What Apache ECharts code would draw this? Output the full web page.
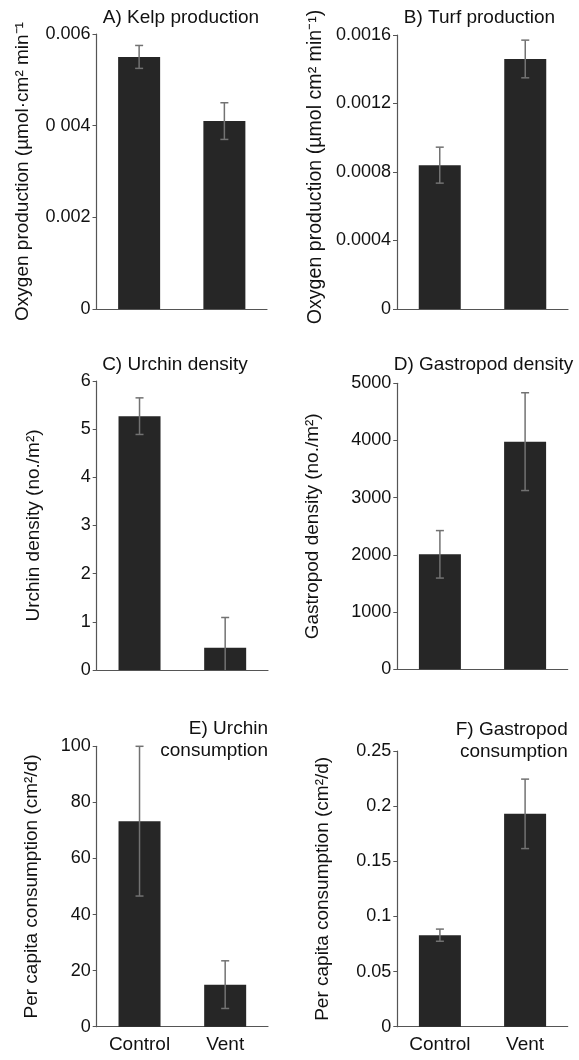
<!DOCTYPE html>
<html>
<head>
<meta charset="utf-8">
<script src="https://cdn.jsdelivr.net/npm/echarts@6/dist/echarts.min.js"></script>
<style>
html,body{margin:0;padding:0;background:#fff;}
#chart{width:579px;height:1060px;}
</style>
</head>
<body>
<div id="chart"></div>
<script>
// ---- data ----
const categories = ['Control', 'Vent'];

const kelpMean = [0.0055, 0.0041];
const kelpErr = [0.00025, 0.0004];
const turfMean = [0.00084, 0.00146];
const turfErr = [0.000105, 0.00011];
const urchinDensityMean = [5.27, 0.46];
const urchinDensityErr = [0.38, 0.63];
const gastropodDensityMean = [2010, 3980];
const gastropodDensityErr = [415, 855];
const urchinConsMean = [73.3, 15.0];
const urchinConsErr = [26.7, 8.5];
const gastropodConsMean = [0.083, 0.193];
const gastropodConsErr = [0.0055, 0.0315];

const ticksA = ['0', '0.002', '0 004', '0.006'];
const ticksB = ['0', '0.0004', '0.0008', '0.0012', '0.0016'];
const ticksC = ['0', '1', '2', '3', '4', '5', '6'];
const ticksD = ['0', '1000', '2000', '3000', '4000', '5000'];
const ticksE = ['0', '20', '40', '60', '80', '100'];
const ticksF = ['0', '0.05', '0.1', '0.15', '0.2', '0.25'];

const titlesText = ['A) Kelp production', 'B) Turf production', 'C) Urchin density',
  'D) Gastropod density', 'E) Urchin\nconsumption', 'F) Gastropod\nconsumption'];
const axisNames = ['Oxygen production (µmol·cm² min⁻¹', 'Oxygen production (µmol cm² min⁻¹)',
  'Urchin density (no./m²)', 'Gastropod density (no./m²)',
  'Per capita consumption (cm²/d)', 'Per capita consumption (cm²/d)'];

// ---- layout ----
const FONT = 'Liberation Sans, Arial, sans-serif';
const TXT = '#111';
const panels = [
  {mean: kelpMean, err: kelpErr, ticks: ticksA, max: 0.006, interval: 0.002,
   grid: {left: 96.5, top: 34, width: 170.5, height: 275}, nameGap: 64, showX: false, nameSize: 19, namePad: 0},
  {mean: turfMean, err: turfErr, ticks: ticksB, max: 0.0016, interval: 0.0004,
   grid: {left: 397, top: 35, width: 171, height: 274}, nameGap: 71, showX: false, nameSize: 19.6, namePad: 10},
  {mean: urchinDensityMean, err: urchinDensityErr, ticks: ticksC, max: 6, interval: 1,
   grid: {left: 96.7, top: 381, width: 171.3, height: 289}, nameGap: 53, showX: false, nameSize: 19, namePad: 0},
  {mean: gastropodDensityMean, err: gastropodDensityErr, ticks: ticksD, max: 5000, interval: 1000,
   grid: {left: 397.3, top: 383.3, width: 170.4, height: 286}, nameGap: 75, showX: false, nameSize: 19, namePad: 0},
  {mean: urchinConsMean, err: urchinConsErr, ticks: ticksE, max: 100, interval: 20,
   grid: {left: 96.7, top: 746.3, width: 171.3, height: 280.4}, nameGap: 55, showX: true, nameSize: 19, namePad: 0},
  {mean: gastropodConsMean, err: gastropodConsErr, ticks: ticksF, max: 0.25, interval: 0.05,
   grid: {left: 397.3, top: 751, width: 170.4, height: 275.7}, nameGap: 65, showX: true, nameSize: 19, namePad: 0}
];
const titlePos = [
  {left: 181, top: 18, align: 'center'},
  {left: 479.5, top: 18, align: 'center'},
  {left: 175, top: 365, align: 'center'},
  {left: 483.5, top: 365, align: 'center'},
  {left: 268, top: 740, align: 'right'},
  {left: 567.7, top: 741, align: 'right'}
];

function renderErr(params, api) {
  const x = api.value(0), v = api.value(1), e = api.value(2);
  const lo = Math.max(0, v - e), hi = v + e;
  const pHi = api.coord([x, hi]);
  const pLo = api.coord([x, lo]);
  const hw = 4;
  const st = {stroke: '#727272', lineWidth: 1.5};
  const ch = [
    {type: 'line', shape: {x1: pHi[0], y1: pHi[1], x2: pLo[0], y2: pLo[1]}, style: st},
    {type: 'line', shape: {x1: pHi[0] - hw, y1: pHi[1], x2: pHi[0] + hw, y2: pHi[1]}, style: st}
  ];
  if (v - e > 0) {
    ch.push({type: 'line', shape: {x1: pLo[0] - hw, y1: pLo[1], x2: pLo[0] + hw, y2: pLo[1]}, style: st});
  }
  return {type: 'group', children: ch};
}

const option = {
  animation: false,
  backgroundColor: '#fff',
  title: titlesText.map((t, i) => ({
    text: t, left: titlePos[i].left, top: titlePos[i].top, padding: 0,
    textAlign: titlePos[i].align, textVerticalAlign: 'middle',
    textStyle: {fontFamily: FONT, fontSize: 19, fontWeight: 'normal', color: TXT, lineHeight: 22}
  })),
  grid: panels.map(p => Object.assign({containLabel: false}, p.grid)),
  xAxis: panels.map((p, i) => ({
    type: 'category', gridIndex: i, data: categories, boundaryGap: true,
    axisLine: {show: true, lineStyle: {color: '#555', width: 1.2}},
    axisTick: {show: false},
    axisLabel: {show: p.showX, fontFamily: FONT, fontSize: 19, color: TXT, margin: 9}
  })),
  yAxis: panels.map((p, i) => ({
    type: 'value', gridIndex: i, min: 0, max: p.max, interval: p.interval,
    name: axisNames[i], nameLocation: 'middle', nameGap: p.nameGap, nameRotate: 90,
    nameTextStyle: {fontFamily: FONT, fontSize: p.nameSize, color: TXT, padding: [0, 0, 0, p.namePad]},
    axisLine: {show: true, lineStyle: {color: '#555', width: 1.2}},
    axisTick: {show: true, length: 4, lineStyle: {color: '#555'}},
    splitLine: {show: false},
    axisLabel: {fontFamily: FONT, fontSize: 18, color: TXT, margin: 6,
      formatter: (function (labels) { return function (v, idx) { return labels[idx]; }; })(p.ticks)}
  })),
  series: []
};

panels.forEach((p, i) => {
  option.series.push({
    type: 'bar', xAxisIndex: i, yAxisIndex: i, data: p.mean, barWidth: 42,
    itemStyle: {color: '#262626'}, z: 2
  });
  option.series.push({
    type: 'custom', xAxisIndex: i, yAxisIndex: i, renderItem: renderErr, z: 3,
    data: p.mean.map((m, k) => [k, m, p.err[k]])
  });
});

const chart = echarts.init(document.getElementById('chart'), null, {renderer: 'canvas'});
chart.setOption(option);
</script>
</body>
</html>
